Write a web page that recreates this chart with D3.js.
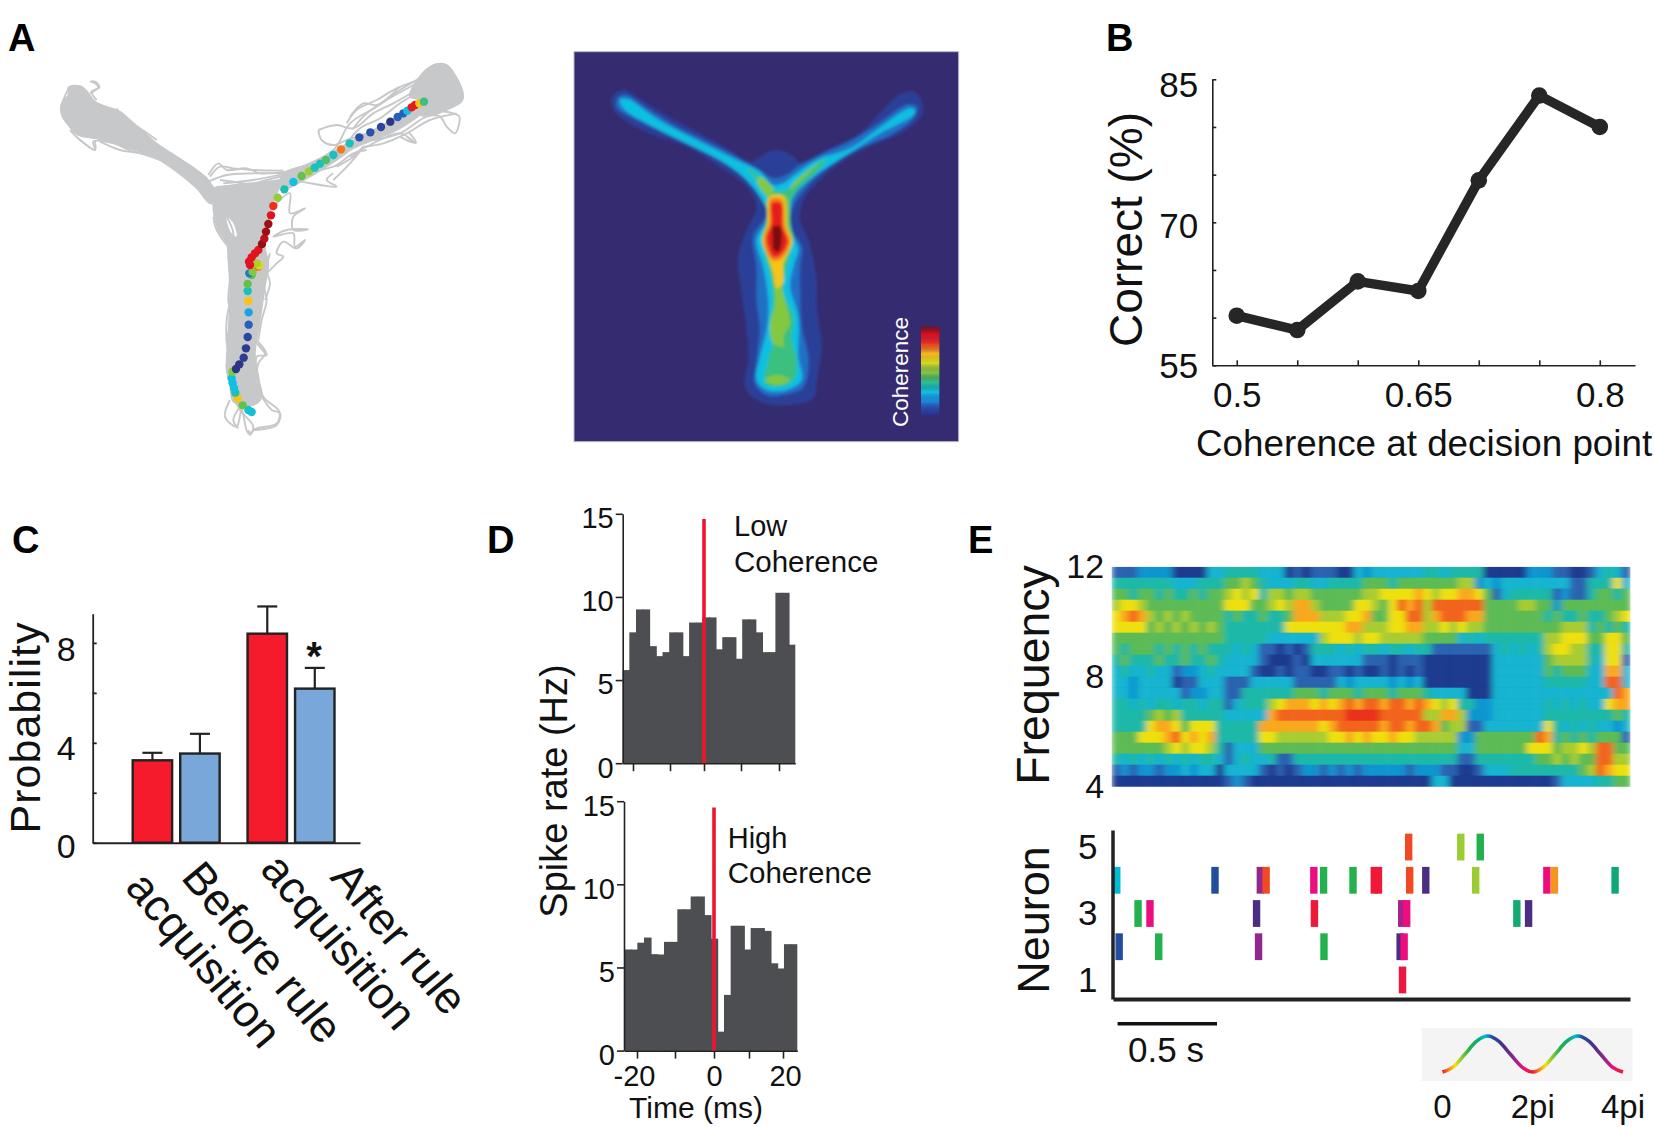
<!DOCTYPE html>
<html>
<head>
<meta charset="utf-8">
<script src="https://cdn.jsdelivr.net/npm/d3@7"></script>
<style>
  body { margin: 0; background: #fff; }
  svg text { font-family: "Liberation Sans", Arial, sans-serif; fill: #111; }
</style>
</head>
<body>
<svg id="fig" width="1654" height="1127"></svg>
<script>
// ---- panel A: tracking data, in camera pixels
const trackRegions = [
  [[205,262],[240,258],[262,275],[285,305],[320,320],[360,335],[395,365],[430,395],[470,430],[530,470],[590,510],[625,540],[650,585],[655,610],[630,610],[590,565],[530,515],[470,475],[420,455],[370,440],[330,425],[285,415],[235,405],[205,375],[185,345],[185,310],[205,285]],
  [[630,570],[700,555],[850,535],[862,520],[835,570],[815,620],[805,670],[795,740],[805,790],[795,860],[780,960],[765,1060],[770,1120],[785,1190],[760,1215],[700,1205],[690,1150],[680,1100],[685,1000],[690,880],[685,780],[680,730],[655,690],[640,630],[640,600]],
  [[845,525],[930,490],[1010,450],[1050,425],[1120,390],[1200,345],[1260,310],[1270,330],[1200,385],[1120,420],[1060,445],[1010,480],[930,530],[850,565]],
  [[1255,235],[1300,195],[1340,195],[1365,225],[1390,285],[1385,305],[1350,325],[1300,345],[1260,345],[1255,300],[1230,290]]
];
const trackHoles = [
  [[680,650],[700,670],[710,710],[695,700],[682,670]]
];
const trackLoops = [
  [[860,520],[1000,450],[1050,370],[1130,320],[1200,270],[1260,235],[1320,210]],
  [[955,390],[1010,375],[1060,385],[1120,340],[1180,310],[1250,270]],
  [[1100,400],[1040,420],[1000,435],[965,420],[955,390]],
  [[1120,420],[1200,400],[1280,350],[1320,350],[1340,380],[1365,400],[1378,350],[1360,340],[1300,330]],
  [[1050,350],[1090,310],[1130,315],[1200,260]],
  [[1050,470],[1100,440],[1200,400],[1245,428],[1220,410]],
  [[850,540],[900,545],[1010,560],[980,540],[1000,520]],
  [[870,520],[1000,500],[1060,460],[1100,450]],
  [[1030,445],[1080,385],[1140,355],[1200,310],[1265,270]],
  [[1060,385],[1100,340],[1160,300],[1240,255],[1290,225]],
  [[1040,370],[1070,330],[1130,300],[1190,265],[1270,235]],
  [[1130,390],[1190,350],[1250,310],[1300,290]],
  [[1090,440],[1150,430],[1220,400],[1290,360],[1370,340]],
  [[1010,500],[1060,470],[1090,440],[1050,490],[1000,540]],
  [[1200,410],[1230,425],[1248,428],[1225,395]],
  [[820,620],[870,580],[870,640],[915,625],[880,650],[880,690],[925,688],[860,690],[820,710],[880,700],[885,740],[915,720],[890,745],[850,725],[830,760],[850,770],[830,790],[790,830]],
  [[625,525],[655,490],[680,510],[740,505],[780,520],[860,515]],
  [[670,550],[760,540],[860,520]],
  [[630,530],[660,500],[700,505],[760,510],[850,512]],
  [[625,545],[680,525],[760,520],[860,520]],
  [[650,560],[720,560],[800,540],[860,525]],
  [[660,540],[700,545],[760,555],[830,545]],
  [[640,650],[650,690],[690,740],[700,700],[680,650]],
  [[690,1200],[675,1250],[710,1280],[725,1230],[745,1300],[770,1285],[830,1270],[838,1235],[790,1190],[775,1130],[770,1070],[800,1065],[770,1020]],
  [[680,1000],[690,1100],[680,1090],[682,1120]],
  [[685,770],[690,830],[685,900],[695,960],[680,1020],[690,1060],[680,1100],[695,1170]],
  [[700,780],[695,880],[680,960],[682,1040],[700,1100]],
  [[800,800],[790,850],[800,900],[785,960],[775,1020]],
  [[810,760],[800,810],[810,850],[795,900]],
  [[800,1065],[770,1030],[795,1060],[775,1090],[770,1130]],
  [[700,1190],[720,1230],[760,1280],[750,1305],[745,1290]],
  [[735,1200],[700,1260],[715,1285]],
  [[780,1180],[815,1230],[840,1240],[830,1275],[760,1290]],
  [[275,245],[295,260],[270,280]],
  [[240,420],[285,450],[280,425],[340,430],[400,455],[450,465]],
  [[340,330],[360,345],[400,370],[450,420],[520,480]],
  [[210,390],[240,420],[285,450],[285,425]],
  [[300,425],[360,450],[420,460],[480,480]],
  [[270,245],[285,245],[298,262],[275,275],[290,300]],
  [[350,325],[365,350],[420,385],[470,420]],
  [[215,265],[210,262],[190,300],[182,330]]
];
const dotTrack = [
  [755,1236],[745,1230],[728,1216],[713,1195],[706,1178],[702,1165],[698,1150],[695,1135],[697,1115],[708,1107],[718,1093],[731,1073],[738,1045],[743,1011],[746,974],[746,937],[745,903],[743,873],[743,852],
  [755,825],[748,820],[758,815],[775,800],[778,796],[770,790],
  [750,795],[747,785],[755,772],[765,760],[775,750],[786,732],[793,716],[798,695],[805,672],[813,646],[820,618],[833,593],[853,568],[880,546],[905,528],[927,514],[944,503],[960,491],[978,480],[1000,465],[1023,448],[1049,430],[1078,412],[1111,397],[1143,381],[1171,365],[1193,351],[1210,340],[1222,332],[1235,322],[1245,315],[1258,310],[1272,305]
];
const dotCoherence = [
  0.3,0.3,0.46,0.68,0.36,0.28,0.28,0.28,0.5,0.03,0.03,0.05,0.05,0.08,0.12,0.22,0.68,0.33,0.46,
  0.45,0.15,0.5,0.76,0.6,0.55,
  0.9,0.9,0.9,0.9,0.9,0.98,0.94,0.97,0.97,0.9,0.82,0.52,0.34,0.28,0.46,0.53,0.33,0.33,0.42,0.33,0.76,0.33,0.1,0.1,0.08,0.03,0.12,0.12,0.28,0.88,0.88,0.68,0.4
];

// ---- panel A right: coherence map, level outlines in map pixels
const coherenceLevels = [0.06, 0.14, 0.28, 0.4, 0.5, 0.68, 0.76, 0.88, 1];
const coherenceColors = ["#2e2a7a","#2b4aa8","#1a8fe0","#10c0e8","#20c0a0","#60c050","#a8d030","#f5e610","#f9a01c","#f0301c","#e01020","#7a1010"];
const levelOutlines = [
  [[[160,165],[190,150],[230,170],[300,215],[400,270],[500,325],[570,365],[600,350],[650,330],[700,350],[720,370],[800,330],[900,280],[960,220],[1010,170],[1060,155],[1085,185],[1085,225],[1030,275],[950,310],[870,350],[790,410],[730,480],[720,540],[745,600],[770,720],[770,800],[785,920],[770,1020],[760,1075],[680,1095],[600,1085],[555,1040],[565,960],[560,870],[545,760],[535,650],[560,570],[590,500],[560,440],[480,380],[380,320],[270,280],[180,230],[155,195]]],
  [[[175,172],[200,165],[260,205],[340,255],[430,300],[520,345],[590,385],[640,415],[680,405],[720,375],[790,340],[860,310],[950,255],[1040,195],[1070,200],[1060,235],[1000,280],[900,325],[820,370],[750,430],[700,500],[690,560],[725,620],[720,680],[720,760],[725,860],[745,960],[730,1040],[690,1060],[620,1065],[585,1030],[590,960],[600,870],[590,780],[590,680],[580,590],[620,520],[590,450],[530,390],[440,340],[340,290],[250,250],[170,200]]],
  [[[180,178],[205,178],[280,230],[360,275],[450,320],[540,365],[600,395],[640,435],[670,430],[710,400],[780,355],[830,340],[880,320],[950,270],[1050,205],[1065,210],[1060,225],[960,280],[890,325],[820,370],[760,410],[700,470],[690,530],[700,590],[715,625],[700,680],[690,740],[715,830],[715,950],[725,1020],[680,1050],[620,1050],[590,1020],[600,950],[620,870],[625,780],[610,680],[590,600],[625,530],[600,470],[550,410],[470,355],[370,305],[280,260],[190,205]]],
  [[[560,385],[610,420],[640,450],[680,450],[720,410],[780,365],[800,355],[770,395],[720,440],[690,490],[680,560],[695,610],[680,680],[670,760],[700,830],[695,900],[710,960],[700,1020],[650,1040],[615,1030],[625,960],[640,900],[630,860],[640,780],[630,700],[610,620],[610,580],[630,490],[610,440],[570,400]]],
  [[[625,470],[680,470],[690,560],[700,600],[670,680],[665,740],[680,800],[690,850],[670,890],[670,920],[640,910],[630,860],[645,790],[640,720],[625,660],[605,600],[620,540]],
   [[615,1020],[650,1005],[690,1020],[650,1035]],
   [[600,410],[640,450],[625,470],[590,420]],
   [[700,430],[780,365],[760,385],[690,450]]],
  [[[630,470],[670,470],[680,560],[695,605],[670,670],[668,730],[650,745],[640,700],[628,660],[608,600],[622,560]]],
  [[[632,478],[665,478],[675,560],[690,605],[665,655],[640,662],[622,640],[612,595],[628,550]]],
  [[[636,490],[662,490],[668,560],[683,605],[660,645],[640,650],[628,630],[620,595],[635,550]]],
  [[[640,560],[660,560],[665,600],[655,635],[642,630],[638,595]]]
];

// ---- panel B
const coherenceBins = [0.5, 0.55, 0.6, 0.65, 0.7, 0.75, 0.8];
const percentCorrect = [60.2, 58.7, 63.8, 62.8, 74.4, 83.3, 80.0];

// ---- panel C
const ruleGroups = ["before", "after"];
const ruleLabels = [["Before rule", "acquisition"], ["After rule", "acquisition"]];
const barKinds = ["high", "low"];
const probabilityHigh = [3.3, 8.37];
const probabilityLow = [3.57, 6.17];
const errorTopHigh = [3.6, 9.46];
const errorTopLow = [4.36, 7.0];

// ---- panel D
const lowCoherenceRate = [5.6,7.87,9.25,9.25,7.04,6.44,6.68,7.87,7.87,6.44,8.46,8.46,8.77,8.77,6.85,7.58,7.58,6.28,8.65,8.65,7.87,6.68,6.68,10.25,10.25,7.13];
const highCoherenceRate = [6.08,6.08,6.49,6.8,5.8,5.78,6.54,6.54,8.5,8.5,9.27,9.27,8.15,6.73,1.14,3.35,7.51,7.51,6.08,7.37,7.37,7.2,5.25,4.94,6.4,6.4];
const timeTicks = [-20, -10, 0, 10, 20];

// ---- panel E: spectrogram, one string per frequency row, top row first
const spectrogramRows = [
  "1112222000 0334444333 0101110032 3333334434 4440000022 2110013431",
  "4444444333 4445565433 3443344445 5545555555 6623233333 3331144473",
  "5545545445 4556767466 5665555556 6777787677 8875134444 4121145545",
  "6776555555 5557775567 6886555577 6579896999 9995555665 5255555555",
  "7898656565 5554544544 5888666778 5577996899 9885555555 4544544567",
  "7777565656 5654444444 7777777886 6677886676 7665555555 5566645454",
  "5555555555 5554444433 3333677767 7666665555 3434444444 6677755775",
  "5455545454 5444343110 1014443434 4344344111 1111343434 6776644774",
  "4544454454 4543333100 0103333331 1101110000 0000333333 5666643771",
  "3433433122 3433331001 0110011010 0101010000 0000333333 5455533883",
  "3323333011 3331113333 3111113233 3323230000 0000333333 4444433993",
  "3323333312 2331144444 4555455545 5545554333 3000333333 3333333398",
  "4434344344 3441344467 8887878989 9899898767 4422333333 4343433788",
  "4444565644 4443333389 9999999aaa a999996688 6222333333 4444444454",
  "4444788757 7744444888 8888789999 9899899856 6113333333 7434343323",
  "5557778978 7844444776 6666677878 7787766666 2255555559 8454545551",
  "5555556767 7641333555 5555555555 5555555555 3355555577 7566769955",
  "4343434343 4431343341 1444444444 4444444444 1144444445 5656559966",
  "1212212232 3303333101 0122121212 2222122211 0013334444 4444569877",
  "0000000000 0001210000 0000000000 0000000330 0000000000 0133334455"
];
const spectrogramColors = ["#1f3a8f","#2a62b0","#0f95d0","#12b4d0","#1fb8a8","#5cbb55","#a8cc30","#eee010","#f9a81c","#f2641a","#e8301a"];
const frequencyTicks = [4, 8, 12];

// spike times (s) and phase (fraction of a cycle), neuron by neuron
const spikeTimes = {
  5: [1.487, 1.749, 1.847],
  4: [0.019, 0.513, 0.741, 0.770, 1.010, 1.059, 1.207, 1.314, 1.335, 1.492, 1.573, 1.824, 2.182, 2.220, 2.525],
  3: [0.126, 0.186, 0.722, 1.013, 1.452, 1.477, 2.031, 2.090],
  2: [0.031, 0.230, 0.732, 1.061, 1.444, 1.464],
  1: [1.456]
};
const spikePhases = {
  5: [0.03, 0.2, 0.3],
  4: [0.47, 0.55, 0.8, 0.03, 0.9, 0.3, 0.3, 0.98, 0.98, 0.03, 0.68, 0.2, 0.9, 0.08, 0.4],
  3: [0.3, 0.9, 0.68, 0.98, 0.82, 0.9, 0.38, 0.68],
  2: [0.56, 0.3, 0.8, 0.3, 0.68, 0.9],
  1: [0.97]
};
const phaseStops = [0, 0.08, 0.14, 0.2, 0.3, 0.4, 0.47, 0.55, 0.68, 0.8, 0.9, 1];
const phaseColors = ["#ee1c25","#f7941d","#f5e50a","#9acd32","#22b14c","#10a878","#00bcd4","#1f4e9e","#4b2e83","#92278f","#ec0e7e","#ee1c25"];
const waveAngle = [0,0.25,0.5,0.75,1,1.25,1.5,1.75,2,2.25,2.5,2.75,3,3.25,3.5,3.75,4];
const waveHeight = [0,0.15,0.5,0.85,1,0.85,0.5,0.15,0,0.15,0.5,0.85,1,0.85,0.5,0.15,0];
const waveLabels = [[0,"0"],[2,"2pi"],[4,"4pi"]];

const svg = d3.select("#fig");
const defs = svg.append("defs");

const axisInk = "#222";
const dress = (g, size, sw) => {
  g.selectAll("path.domain").attr("stroke", axisInk).attr("stroke-width", sw);
  g.selectAll(".tick line").attr("stroke", axisInk).attr("stroke-width", sw);
  g.selectAll("text").attr("font-size", size).attr("font-family", null).style("fill", "#111");
  return g;
};
const label = (x, y, txt, size, rot, anchor) => svg.append("text")
  .attr("transform", `translate(${x},${y})` + (rot ? ` rotate(${rot})` : ""))
  .attr("font-size", size)
  .attr("text-anchor", anchor || "start")
  .text(txt);

// panel letters
[["A",8,50.7],["B",1106,50.7],["C",12,553],["D",487,553],["E",968,553]].forEach(d =>
  label(d[1], d[2], d[0], 38).attr("font-weight", "bold").style("fill", "#000"));

// ---- A, tracking
const camX = d3.scaleLinear().domain([0, 1560]).range([0, 520]);
const camY = d3.scaleLinear().domain([0, 1410]).range([0, 470]);
const camLine = d3.line().x(d => camX(d[0])).y(d => camY(d[1]));
const coherenceScale = d3.scaleLinear()
  .domain(coherenceColors.map((c, i) => i / (coherenceColors.length - 1)))
  .range(coherenceColors);

const grayInk = "#c7c8ca";
const track = svg.append("g");
track.selectAll("path.region").data(trackRegions).join("path")
  .attr("class", "region")
  .attr("d", d => camLine.curve(d3.curveCatmullRomClosed)(d))
  .attr("fill", grayInk).attr("stroke", grayInk).attr("stroke-width", 1.5);
track.selectAll("path.hole").data(trackHoles).join("path")
  .attr("class", "hole")
  .attr("d", d => camLine.curve(d3.curveCatmullRomClosed)(d))
  .attr("fill", "#fff");
track.selectAll("path.loop").data(trackLoops).join("path")
  .attr("class", "loop")
  .attr("d", d => camLine.curve(d3.curveCatmullRom)(d))
  .attr("fill", "none").attr("stroke", grayInk).attr("stroke-width", 1.9);
track.selectAll("circle").data(dotTrack).join("circle")
  .attr("cx", d => camX(d[0])).attr("cy", d => camY(d[1])).attr("r", 4.2)
  .attr("fill", (d, i) => coherenceScale(dotCoherence[i]));

// ---- A, coherence map
const mapX = d3.scaleLinear().domain([0, 1240]).range([560, 973.33]);
const mapY = d3.scaleLinear().domain([0, 1230]).range([40, 450]);
const mapLine = d3.line().x(d => mapX(d[0])).y(d => mapY(d[1])).curve(d3.curveCatmullRomClosed);
const mapFrame = [mapX(42), mapY(35), mapX(1196) - mapX(42), mapY(1205) - mapY(35)];
svg.append("rect").attr("x", mapFrame[0]).attr("y", mapFrame[1])
  .attr("width", mapFrame[2]).attr("height", mapFrame[3])
  .attr("fill", "#352b70").attr("stroke", "#b9b9c9").attr("stroke-width", 1);
defs.append("filter").attr("id", "soft").attr("x", "-10%").attr("y", "-10%").attr("width", "120%").attr("height", "120%")
  .append("feGaussianBlur").attr("stdDeviation", 1.8);
const mapG = svg.append("g").attr("filter", "url(#soft)");
levelOutlines.forEach((rings, i) => {
  mapG.append("g").selectAll("path").data(rings).join("path")
    .attr("d", mapLine)
    .attr("fill", coherenceScale(coherenceLevels[i]));
});
// colour bar
const barY = d3.scaleLinear().domain([0, 1]).range([417.3, 326.7]);
svg.append("g").selectAll("rect").data(d3.range(0, 1, 0.01)).join("rect")
  .attr("x", 921).attr("width", 18.3)
  .attr("y", d => barY(d + 0.01)).attr("height", barY(0) - barY(0.012))
  .attr("fill", d => coherenceScale(d));
label(907.7, 372, "Coherence", 22.5, -90, "middle").style("fill", "#fff");

// ---- B
const bX = d3.scaleLinear().domain([0.4798, 0.8291]).range([1212.3, 1635]);
const bY = d3.scaleLinear().domain([55, 85]).range([365.3, 79.3]);
const bAxisY = svg.append("g").attr("transform", `translate(${bX.range()[0]},0)`)
  .call(d3.axisLeft(bY).tickValues(d3.range(55, 86, 5)).tickSizeInner(-4).tickSizeOuter(0).tickPadding(14)
    .tickFormat(d => d % 15 === 10 ? d : ""));
dress(bAxisY, 35, 1.6);
bAxisY.selectAll("text").attr("dy", d => d === 85 ? 17 : d === 70 ? 15 : 12);
const bAxisX = svg.append("g").attr("transform", `translate(0,${bY(55)})`)
  .call(d3.axisBottom(bX).tickValues(coherenceBins).tickSizeInner(-5).tickSizeOuter(0)
    .tickFormat((d, i) => i % 3 === 0 ? String(d) : ""));
dress(bAxisX, 35, 1.6);
bAxisX.selectAll("text").attr("y", 41.4).attr("dy", 0);
svg.append("path").datum(percentCorrect)
  .attr("d", d3.line().x((d, i) => bX(coherenceBins[i])).y(d => bY(d)))
  .attr("fill", "none").attr("stroke", "#262626").attr("stroke-width", 9.5);
svg.append("g").selectAll("circle").data(percentCorrect).join("circle")
  .attr("cx", (d, i) => bX(coherenceBins[i])).attr("cy", d => bY(d)).attr("r", 8.3).attr("fill", "#262626");
label(1142, 229.5, "Correct (%)", 46, -90, "middle");
label(1196, 456, "Coherence at decision point", 36.8);

// ---- C
const cY = d3.scaleLinear().domain([0, 9.17]).range([842.7, 613.7]);
const cAxisX = d3.scaleLinear().domain([0, 1]).range([92.7, 360]);
const cGroup = d3.scaleBand().domain(ruleGroups).range([132.7, 334.5]).paddingInner(0.243);
const cKind = d3.scaleBand().domain(barKinds).range([0, cGroup.bandwidth()]).paddingInner(0.17);
const cBars = [];
ruleGroups.forEach((g, i) => {
  cBars.push({ group: g, kind: "high", value: probabilityHigh[i], top: errorTopHigh[i], fill: "#f51a2c" });
  cBars.push({ group: g, kind: "low", value: probabilityLow[i], top: errorTopLow[i], fill: "#7aa7d9" });
});
const cCentre = d => cGroup(d.group) + cKind(d.kind) + cKind.bandwidth() / 2;
const cAxisLeft = svg.append("g").attr("transform", `translate(${cAxisX(0)},0)`)
  .call(d3.axisLeft(cY).tickValues([0, 2, 4, 6, 8]).tickSizeInner(-4).tickSizeOuter(0).tickPadding(17)
    .tickFormat(d => d % 4 === 0 ? d : ""));
dress(cAxisLeft, 34, 1.8);
cAxisLeft.selectAll("text").attr("dy", d => d === 8 ? 18 : d === 4 ? 17 : 15);
const cErr = svg.append("g").attr("stroke", axisInk).attr("stroke-width", 2.2).selectAll("g").data(cBars).join("g");
cErr.append("line").attr("x1", cCentre).attr("x2", cCentre).attr("y1", d => cY(d.value)).attr("y2", d => cY(d.top));
cErr.append("line").attr("x1", d => cCentre(d) - 10).attr("x2", d => cCentre(d) + 10).attr("y1", d => cY(d.top)).attr("y2", d => cY(d.top));
svg.append("g").selectAll("rect").data(cBars).join("rect")
  .attr("x", d => cGroup(d.group) + cKind(d.kind)).attr("width", cKind.bandwidth())
  .attr("y", d => cY(d.value)).attr("height", d => cY(0) - cY(d.value))
  .attr("fill", d => d.fill).attr("stroke", axisInk).attr("stroke-width", 2.4);
const cAxisBottom = svg.append("g").attr("transform", `translate(0,${cY(0)})`)
  .call(d3.axisBottom(cAxisX).tickValues([]).tickSizeOuter(0));
dress(cAxisBottom, 34, 2);
label(314, 670, "*", 40, 0, "middle").attr("font-weight", "bold");
label(39.5, 727.5, "Probability", 43, -90, "middle").attr("letter-spacing", 1);
// rotated condition names, start point of each line
const ruleLabelStarts = [[[180, 878], [124, 888]], [[329, 878], [259, 870]]];
ruleLabels.forEach((lines, i) => lines.forEach((t, j) =>
  label(ruleLabelStarts[i][j][0], ruleLabelStarts[i][j][1], t, 45, 50)));

// ---- D
const dBins = d3.range(26);
function histogram(rates, xRange, tickRange, y0, y15, redTop, showLabels) {
  const band = d3.scaleBand().domain(dBins).range(xRange);
  const y = d3.scaleLinear().domain([0, 15]).range([y0, y15]);
  const x = d3.scaleLinear().domain([-23.6, ...timeTicks, 24]).range([xRange[0], ...tickRange, xRange[1]]);
  svg.append("g").selectAll("rect").data(rates).join("rect")
    .attr("x", (d, i) => band(i)).attr("width", (d, i) => band.bandwidth() + (i < rates.length - 1 ? 0.9 : 0))
    .attr("y", d => y(d)).attr("height", d => y0 - y(d))
    .attr("fill", "#4d4e52");
  const ax = svg.append("g").attr("transform", `translate(${xRange[0]},0)`)
    .call(d3.axisLeft(y).tickValues([0, 5, 10, 15]).tickSizeInner(7).tickSizeOuter(0).tickPadding(2));
  dress(ax, 29, 1.6);
  ax.selectAll("text").attr("dy", "0.48em");
  const bx = svg.append("g").attr("transform", `translate(0,${y0})`)
    .call(d3.axisBottom(x).tickValues(timeTicks).tickSizeInner(8).tickSizeOuter(0).tickPadding(2)
      .tickFormat(d => showLabels && d % 20 === 0 ? d : ""));
  dress(bx, 29, 1.6);
  bx.selectAll("text").attr("y", 35).attr("dy", 0).attr("dx", d => d === -20 ? -3 : d === 20 ? 2 : 0);
  svg.append("line").attr("x1", x(0)).attr("x2", x(0)).attr("y1", redTop).attr("y2", y0)
    .attr("stroke", "#f0142d").attr("stroke-width", 3.6);
}
histogram(lowCoherenceRate, [622.7, 795.3], [633, 670, 704, 741, 779], 763.2, 513.8, 519, false);
histogram(highCoherenceRate, [624, 797.3], [637, 675, 714, 749, 783], 1050.6, 801.2, 807.5, true);
label(734, 536, "Low", 29);
label(734, 572, "Coherence", 29.5);
label(727.7, 848, "High", 29);
label(727.7, 883, "Coherence", 29.5);
label(567, 791, "Spike rate (Hz)", 38, -90, "middle");
label(696, 1118, "Time (ms)", 30, 0, "middle");

// ---- E, spectrogram
const specCells = spectrogramRows.map(r => r.replace(/ /g, "").split("").map(c => parseInt(c, 11)));
const specX = d3.scaleBand().domain(d3.range(60)).range([1111.7, 1630.4]);
const specY = d3.scaleBand().domain(d3.range(20)).range([566.7, 786.7]);
const specColor = d3.scaleOrdinal().domain(d3.range(11)).range(spectrogramColors);
defs.append("clipPath").attr("id", "specClip").append("rect")
  .attr("x", 1111.7).attr("y", 566.7).attr("width", 518.7).attr("height", 220);
defs.append("filter").attr("id", "smear").attr("x", "-2%").attr("y", "-2%").attr("width", "104%").attr("height", "104%")
  .append("feGaussianBlur").attr("stdDeviation", "3.2 0.6");
const specG = svg.append("g").attr("clip-path", "url(#specClip)")
  .append("g").attr("filter", "url(#smear)");
specG.selectAll("g").data(specCells).join("g")
  .attr("transform", (d, i) => `translate(0,${specY(i)})`)
  .selectAll("rect").data(d => d).join("rect")
  .attr("x", (d, i) => specX(i)).attr("width", specX.bandwidth() + 0.4)
  .attr("height", specY.bandwidth() + 0.4)
  .attr("fill", d => specColor(d));
const specAxis = svg.append("g").attr("transform", "translate(1111.7,0)")
  .call(d3.axisLeft(d3.scaleLinear().domain([4, 12]).range([786.7, 566.7]))
    .tickValues(frequencyTicks).tickSize(0).tickPadding(7.5));
dress(specAxis, 34, 0);
specAxis.select("path.domain").remove();
label(1049, 675, "Frequency", 46.5, -90, "middle");

// ---- E, raster
const rasterX = d3.scaleLinear().domain([0, 2.6]).range([1113, 1630]);
const rasterY = d3.scaleLinear().domain([0.427, 5.513]).range([999, 830]);
const phaseColor = d3.scaleLinear().domain(phaseStops).range(phaseColors);
const neurons = [5, 4, 3, 2, 1];
const rasterRows = svg.append("g").selectAll("g").data(neurons).join("g");
rasterRows.selectAll("rect")
  .data(n => spikeTimes[n].map((t, i) => ({ n, t, p: spikePhases[n][i] })))
  .join("rect")
  .attr("x", d => rasterX(d.t) - 3.7).attr("width", 7.4)
  .attr("y", d => rasterY(d.n) - 13.4).attr("height", 26.8)
  .attr("fill", d => phaseColor(d.p));
const rLeft = svg.append("g").attr("transform", "translate(1112.5,0)")
  .call(d3.axisLeft(rasterY).tickValues([1, 3, 5]).tickSize(0).tickPadding(15).tickFormat(d3.format("d")));
dress(rLeft, 35, 3.5);
const rBottom = svg.append("g").attr("transform", "translate(0,999)")
  .call(d3.axisBottom(rasterX).tickValues([]).tickSizeOuter(0));
dress(rBottom, 30, 4);
label(1049, 920, "Neuron", 45, -90, "middle");
svg.append("line").attr("x1", rasterX(0.023)).attr("x2", rasterX(0.523)).attr("y1", 1023.7).attr("y2", 1023.7)
  .attr("stroke", "#111").attr("stroke-width", 3.5);
label(1166, 1062, "0.5 s", 35, 0, "middle");

// ---- E, phase key
svg.append("rect").attr("x", 1421.7).attr("y", 1028).attr("width", 210.8).attr("height", 53).attr("fill", "#f4f4f4");
const waveX = d3.scaleLinear().domain([0, 4]).range([1442.5, 1623]);
const waveY = d3.scaleLinear().domain([0, 1]).range([1072, 1036]);
const waveGrad = defs.append("linearGradient").attr("id", "waveInk").attr("gradientUnits", "userSpaceOnUse")
  .attr("x1", waveX(0)).attr("x2", waveX(4)).attr("y1", 0).attr("y2", 0);
[0, 1].forEach(c => phaseStops.forEach((p, i) =>
  waveGrad.append("stop").attr("offset", (c + p) / 2).attr("stop-color", phaseColors[i])));
svg.append("path").datum(waveHeight)
  .attr("d", d3.line().x((d, i) => waveX(waveAngle[i])).y(d => waveY(d)).curve(d3.curveCardinal))
  .attr("fill", "none").attr("stroke", "url(#waveInk)").attr("stroke-width", 3.6);
waveLabels.forEach(d => label(waveX(d[0]), 1118, d[1], 33, 0, "middle"));
</script>
</body>
</html>
